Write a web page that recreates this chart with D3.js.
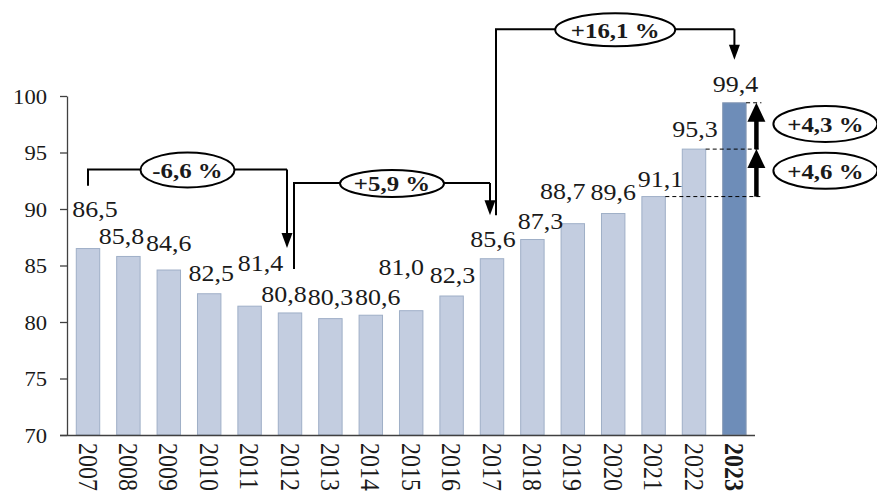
<!DOCTYPE html>
<html>
<head>
<meta charset="utf-8">
<script src="https://cdn.jsdelivr.net/npm/d3@7/dist/d3.min.js"></script>
<style>
  html, body { margin: 0; padding: 0; background: #fff; }
  svg { display: block; }
  text { font-family: "Liberation Serif", "Times New Roman", serif; fill: #1a1a1a; }
</style>
</head>
<body>
<svg id="chart" width="877" height="498"></svg>
<script>
// ---------- data ----------
const years  = ["2007","2008","2009","2010","2011","2012","2013","2014","2015","2016","2017","2018","2019","2020","2021","2022","2023"];
const values = [86.5, 85.8, 84.6, 82.5, 81.4, 80.8, 80.3, 80.6, 81.0, 82.3, 85.6, 87.3, 88.7, 89.6, 91.1, 95.3, 99.4];
const yTicks = [70, 75, 80, 85, 90, 95, 100];
const highlightYear = "2023";
// period changes: from year, to year, label
const changeFrom   = ["2007", "2012", "2017"];
const changeTo     = ["2012", "2017", "2023"];
const changeLabels = ["-6,6 %", "+5,9 %", "+16,1 %"];
// yearly steps at the end: from year, to year, label
const stepFrom   = ["2021", "2022"];
const stepTo     = ["2022", "2023"];
const stepLabels = ["+4,6 %", "+4,3 %"];

// ---------- layout (not data) ----------
const labelDx = [7, -7, 0, 2, 11, -6, 0, 7, -10, 1, 1, 8, -10, 0, 7, 1, 1];
const labelDy = [-32, -12, -19, -13, -35, -11, -14, -10, -36, -13, -12, -11, -25, -14, -10, -12, -11];
const SX = 1.13; // horizontal stretch of the original picture's text

const svg = d3.select("#chart");

const x = d3.scaleBand().domain(years).range([67.8, 754.6]).paddingInner(0.42).paddingOuter(0.21);
const y = d3.scaleLinear().domain([70, 100]).range([435, 96]);
const cx = yr => x(yr) + x.bandwidth() / 2;

// bars
svg.append("g").selectAll("rect").data(years).join("rect")
  .attr("x", d => x(d))
  .attr("width", x.bandwidth())
  .attr("y", (d, i) => y(values[i]))
  .attr("height", (d, i) => y(70) - y(values[i]))
  .attr("fill", d => d === highlightYear ? "#6e8db8" : "#c3cde0")
  .attr("stroke", d => d === highlightYear ? "#8799b5" : "#9fafc7")
  .attr("stroke-width", 1);

// y axis
const yAxis = svg.append("g").attr("transform", "translate(67,0)")
  .call(d3.axisLeft(y).tickValues(yTicks).tickSize(7).tickSizeOuter(0));
yAxis.selectAll("path, line").attr("stroke", "#404040").attr("stroke-width", 1.3);
yAxis.selectAll("text")
  .attr("x", -20 / SX)
  .attr("dy", "0.35em")
  .attr("transform", `scale(${SX},1)`)
  .style("font-family", '"Liberation Serif", serif')
  .style("font-size", "20px")
  .attr("fill", "#1a1a1a");

// x axis
const xAxis = svg.append("g").attr("transform", "translate(0,435)")
  .call(d3.axisBottom(x).tickSize(0).tickSizeOuter(0));
xAxis.select("path").attr("stroke", "#404040").attr("stroke-width", 1.3).attr("d", "M60,0.5H755");
xAxis.selectAll("text").remove();
xAxis.selectAll(".tick").append("text")
  .attr("transform", `translate(0,8) rotate(90) scale(1,${SX})`)
  .attr("text-anchor", "start")
  .attr("dy", "0.35em")
  .style("font-size", "24px")
  .style("font-weight", d => d === highlightYear ? "bold" : "normal")
  .attr("fill", "#1a1a1a")
  .text(d => d);

// value labels
const fmt = v => d3.format(".1f")(v).replace(".", ",");
svg.append("g").selectAll("text").data(years).join("text")
  .attr("transform", (d, i) => `translate(${cx(d) + labelDx[i]},${y(values[i]) + labelDy[i]}) scale(${SX},1)`)
  .attr("text-anchor", "middle")
  .style("font-size", "23px")
  .attr("fill", "#222")
  .text((d, i) => fmt(values[i]));

// ---------- annotations ----------
const ann = svg.append("g");
const line = d3.line();
function arrowDown(xp, yTop, yTip, w, h) {
  ann.append("path").attr("d", line([[xp, yTop], [xp, yTip - h + 1]]))
    .attr("stroke", "#000").attr("stroke-width", 2).attr("fill", "none");
  ann.append("path").attr("d", line([[xp - w / 2, yTip - h], [xp + w / 2, yTip - h], [xp, yTip]]) + "Z")
    .attr("fill", "#000");
}
function bubble(xc, yc, rx, ry, label) {
  ann.append("ellipse").attr("cx", xc).attr("cy", yc).attr("rx", rx).attr("ry", ry)
    .attr("fill", "#fff").attr("stroke", "#000").attr("stroke-width", 2);
  ann.append("text")
    .attr("transform", `translate(${xc},${yc}) scale(${SX},1)`)
    .attr("text-anchor", "middle").attr("dy", "0.36em")
    .style("font-size", "22px").style("font-weight", "bold")
    .attr("fill", "#000")
    .text(label);
}

// bracket geometry per change (levels in value units)
const brStart = [92.05, 84.7, 89.45];
const brLevel = [93.5, 92.3, 105.9];
const brTip   = [86.55, 89.45, 103.2];
const brDxL   = [0, 4, 4];
const brDxR   = [-3, -2, 0];
const brRx    = [47, 52, 60];
const brRy    = [17.5, 13.5, 16.5];
changeLabels.forEach((lab, k) => {
  const xl = cx(changeFrom[k]) + brDxL[k];
  const xr = cx(changeTo[k]) + brDxR[k];
  ann.append("path")
    .attr("d", line([[xl, y(brStart[k])], [xl, y(brLevel[k])], [xr, y(brLevel[k])]]))
    .attr("stroke", "#000").attr("stroke-width", 2).attr("fill", "none");
  arrowDown(xr, y(brLevel[k]), y(brTip[k]), 11, 15);
  bubble((xl + xr) / 2, y(brLevel[k]) + 0.5, brRx[k], brRy[k], lab);
});

// dashed reference lines at the last three values
const dashYears = ["2021", "2022", "2023"];
dashYears.forEach(yr => {
  const v = values[years.indexOf(yr)];
  ann.append("line")
    .attr("x1", x(yr) + x.bandwidth()).attr("x2", cx("2023") + 27)
    .attr("y1", y(v)).attr("y2", y(v))
    .attr("stroke", "#000").attr("stroke-width", 1).attr("stroke-dasharray", "4,3");
});

// thick up arrows and step bubbles
const ax = cx("2023") + 22;
stepLabels.forEach((lab, k) => {
  const v0 = values[years.indexOf(stepFrom[k])];
  const v1 = values[years.indexOf(stepTo[k])];
  const y0 = y(v0), y1 = y(v1);
  ann.append("line").attr("x1", ax).attr("x2", ax).attr("y1", y0).attr("y2", y1 + 17)
    .attr("stroke", "#000").attr("stroke-width", 4.5);
  ann.append("path").attr("d", line([[ax - 9, y1 + 19], [ax + 9, y1 + 19], [ax, y1]]) + "Z").attr("fill", "#000");
  bubble(cx("2023") + 91, (y0 + y1) / 2 - 2, 52, 18, lab);
});
</script>
</body>
</html>
